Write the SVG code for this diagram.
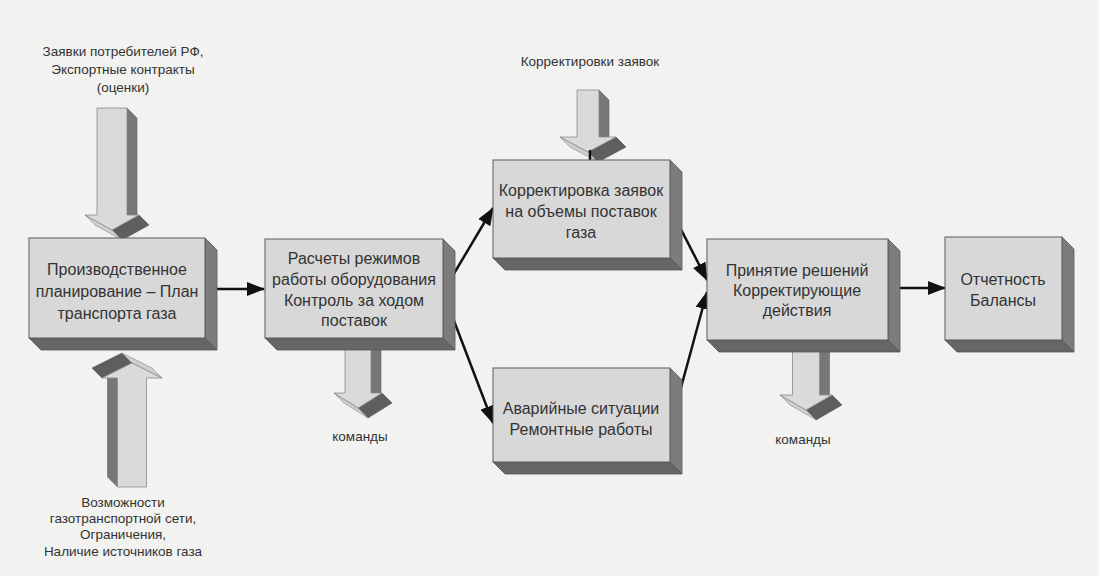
<svg xmlns="http://www.w3.org/2000/svg" width="1099" height="576" viewBox="0 0 1099 576">
<style>
.front{fill:#d8d8d8;stroke:#5a5a5a;stroke-width:1}
.side{fill:#7c7c7c;stroke:#5a5a5a;stroke-width:0.8}
.bottom{fill:#666;stroke:#555;stroke-width:0.8}
.afront{fill:#dadada;stroke:#8a8a8a;stroke-width:0.8}
.aside{fill:#777;stroke:#666;stroke-width:0.6}
.adark{fill:#5e5e5e;stroke:#555;stroke-width:0.6}
.alight{fill:#cfcfcf;stroke:#8a8a8a;stroke-width:0.6}
.bt{font-family:"Liberation Sans",Arial,sans-serif;font-size:16px;fill:#333;text-anchor:middle}
.lt{font-family:"Liberation Sans",Arial,sans-serif;font-size:13.5px;fill:#333;text-anchor:middle}
.conn{stroke:#111;stroke-width:2.5;fill:none;marker-end:url(#ah)}
</style>
<defs>
<marker id="ah" markerUnits="userSpaceOnUse" markerWidth="18" markerHeight="14" viewBox="0 0 18 14" refX="17" refY="7" orient="auto">
<path d="M0,0 L18,7 L0,14 Z" fill="#111"/>
</marker>
</defs>
<rect x="0" y="0" width="1099" height="576" fill="#f2f2f0"/>

<!-- block arrows -->
<g id="arrow-in-top">
<polygon class="aside" points="127,108 137,118 137,225 127,215"/>
<polygon class="adark" points="139,215 149,225 122,240 112,230"/>
<polygon class="alight" points="85,215 112,230 122,240 95,225"/>
<polygon class="afront" points="97,108 127,108 127,215 139,215 112,230 85,215 97,215"/>
</g>
<g id="arrow-in-bottom" transform="translate(132,487) rotate(180)">
<polygon class="aside" points="14.5,0 24.5,10 24.5,119 14.5,109"/>
<polygon class="adark" points="30,109 40,119 10,134 0,124"/>
<polygon class="alight" points="-30,109 0,124 10,134 -20,119"/>
<polygon class="afront" points="-14.5,0 14.5,0 14.5,109 30,109 0,124 -30,109 -14.5,109"/>
</g>
<g id="arrow-cmd1" transform="translate(358,340)">
<polygon class="aside" points="13,0 23,10 23,63 13,53"/>
<polygon class="adark" points="24,53 34,63 10,78 0,68"/>
<polygon class="alight" points="-24,53 0,68 10,78 -14,63"/>
<polygon class="afront" points="-13,0 13,0 13,53 24,53 0,68 -24,53 -13,53"/>
</g>
<g id="arrow-corr" transform="translate(588,90)">
<polygon class="aside" points="11,0 21,10 21,57 11,47"/>
<polygon class="adark" points="28,47 38,57 10,72 0,62"/>
<polygon class="alight" points="-28,47 0,62 10,72 -18,57"/>
<polygon class="afront" points="-11,0 11,0 11,47 28,47 0,62 -28,47 -11,47"/>
</g>
<g id="arrow-cmd2" transform="translate(806,340)">
<polygon class="aside" points="13.5,0 23.5,10 23.5,65 13.5,55"/>
<polygon class="adark" points="26,55 36,65 10,80 0,70"/>
<polygon class="alight" points="-26,55 0,70 10,80 -16,65"/>
<polygon class="afront" points="-13.5,0 13.5,0 13.5,55 26,55 0,70 -26,55 -13.5,55"/>
</g>

<!-- connectors -->
<g id="connectors">
<line class="conn" x1="205" y1="289" x2="264" y2="289"/>
<line class="conn" x1="443" y1="292" x2="493" y2="208"/>
<line class="conn" x1="443" y1="292" x2="493" y2="423"/>
<line class="conn" x1="670" y1="208" x2="707" y2="280"/>
<line class="conn" x1="670" y1="428" x2="707" y2="292"/>
<line class="conn" x1="888" y1="288" x2="945" y2="288"/>
<line x1="590" y1="150" x2="590" y2="161" stroke="#111" stroke-width="2.5"/>
</g>

<!-- nodes -->
<g id="node-plan">
<polygon class="side" points="205,238 217,250 217,350 205,338"/>
<polygon class="bottom" points="29,338 205,338 217,350 41,350"/>
<rect class="front" x="29" y="238" width="176" height="100"/>
<text class="bt" x="117" y="275">Производственное</text>
<text class="bt" x="117" y="297">планирование – План</text>
<text class="bt" x="117" y="319">транспорта газа</text>
</g>
<g id="node-calc">
<polygon class="side" points="443,239 455,251 455,350 443,338"/>
<polygon class="bottom" points="265,338 443,338 455,350 277,350"/>
<rect class="front" x="265" y="239" width="178" height="99"/>
<text class="bt" x="354" y="264">Расчеты режимов</text>
<text class="bt" x="354" y="285">работы оборудования</text>
<text class="bt" x="354" y="306">Контроль за ходом</text>
<text class="bt" x="354" y="326">поставок</text>
</g>
<g id="node-corr">
<polygon class="side" points="670,160 682,172 682,270 670,258"/>
<polygon class="bottom" points="493,258 670,258 682,270 505,270"/>
<rect class="front" x="493" y="160" width="177" height="98"/>
<text class="bt" x="581" y="196">Корректировка заявок</text>
<text class="bt" x="581" y="217">на объемы поставок</text>
<text class="bt" x="581" y="238">газа</text>
</g>
<g id="node-emerg">
<polygon class="side" points="670,368 682,380 682,474 670,462"/>
<polygon class="bottom" points="493,462 670,462 682,474 505,474"/>
<rect class="front" x="493" y="368" width="177" height="94"/>
<text class="bt" x="581" y="414">Аварийные ситуации</text>
<text class="bt" x="581" y="435">Ремонтные работы</text>
</g>
<g id="node-decision">
<polygon class="side" points="888,239 900,251 900,352 888,340"/>
<polygon class="bottom" points="707,340 888,340 900,352 719,352"/>
<rect class="front" x="707" y="239" width="181" height="101"/>
<text class="bt" x="797" y="276">Принятие решений</text>
<text class="bt" x="797" y="296">Корректирующие</text>
<text class="bt" x="797" y="316">действия</text>
</g>
<g id="node-report">
<polygon class="side" points="1062,237 1074,249 1074,352 1062,340"/>
<polygon class="bottom" points="945,340 1062,340 1074,352 957,352"/>
<rect class="front" x="945" y="237" width="117" height="103"/>
<text class="bt" x="1003" y="285">Отчетность</text>
<text class="bt" x="1003" y="306">Балансы</text>
</g>

<!-- labels -->
<g id="labels">
<text class="lt" x="123" y="56">Заявки потребителей РФ,</text>
<text class="lt" x="123" y="74">Экспортные контракты</text>
<text class="lt" x="123" y="92">(оценки)</text>
<text class="lt" x="123" y="507">Возможности</text>
<text class="lt" x="123" y="523">газотранспортной сети,</text>
<text class="lt" x="123" y="539">Ограничения,</text>
<text class="lt" x="123" y="556">Наличие источников газа</text>
<text class="lt" x="590" y="66">Корректировки заявок</text>
<text class="lt" x="360" y="441">команды</text>
<text class="lt" x="803" y="444">команды</text>
</g>
</svg>
